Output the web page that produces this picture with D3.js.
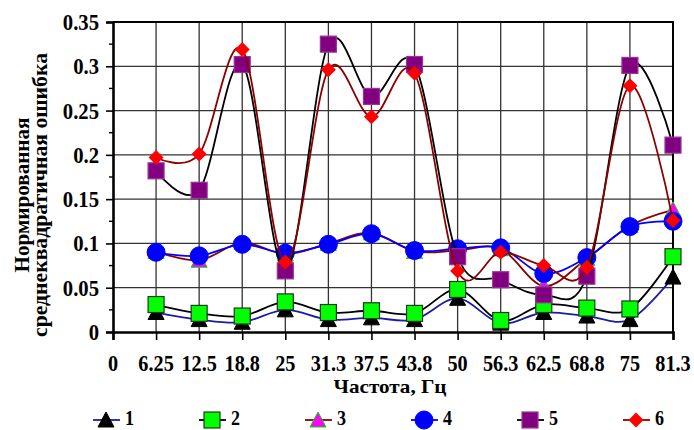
<!DOCTYPE html>
<html>
<head>
<meta charset="utf-8">
<script src="https://cdn.jsdelivr.net/npm/d3@7"></script>
<style>
  html, body { margin: 0; padding: 0; background: #fff; }
  svg { display: block; }
  text { font-family: "Liberation Serif", "Times New Roman", serif; font-weight: bold; fill: #000; }
</style>
</head>
<body>
<svg id="chart" width="694" height="430"></svg>
<script>
// Category axis (frequency, Hz); the first category carries no data
const categories = ["0", "6.25", "12.5", "18.8", "25", "31.3", "37.5", "43.8", "50", "56.3", "62.5", "68.8", "75", "81.3"];
const dataCategories = categories.slice(1);

// Normalised RMS error for each of the six series
const series1 = [0.022, 0.014, 0.011, 0.025, 0.014, 0.016, 0.014, 0.038, 0.010, 0.022, 0.018, 0.014, 0.062];
const series2 = [0.031, 0.021, 0.018, 0.034, 0.022, 0.024, 0.021, 0.048, 0.013, 0.031, 0.027, 0.026, 0.085];
const series3 = [0.091, 0.081, 0.101, 0.088, 0.100, 0.112, 0.091, 0.092, 0.094, 0.052, 0.083, 0.120, 0.138];
const series4 = [0.090, 0.086, 0.099, 0.089, 0.099, 0.111, 0.092, 0.094, 0.095, 0.066, 0.084, 0.119, 0.125];
const series5 = [0.182, 0.160, 0.302, 0.069, 0.325, 0.266, 0.302, 0.085, 0.059, 0.042, 0.063, 0.301, 0.211];
const series6 = [0.197, 0.201, 0.319, 0.079, 0.296, 0.243, 0.292, 0.069, 0.090, 0.075, 0.073, 0.278, 0.126];

const seriesNames = ["1", "2", "3", "4", "5", "6"];
const yTicks = [0, 0.05, 0.1, 0.15, 0.2, 0.25, 0.3, 0.35];
const yTickLabels = ["0", "0.05", "0.1", "0.15", "0.2", "0.25", "0.3", "0.35"];
const xTitle = "Частота, Гц";
const yTitle = ["Нормированная", "среднеквадратичная ошибка"];

// Appearance of each series: line colour and marker style
const styles = [
  { line: "#1c1ca0", shape: "triangle", fill: "#000000", stroke: "#000000" },
  { line: "#000000", shape: "square",   fill: "#00ff00", stroke: "#1a3a1a" },
  { line: "#8b0000", shape: "triangle", fill: "#ff00ff", stroke: "#00dd00" },
  { line: "#0000ff", shape: "circle",   fill: "#0000ff", stroke: "#0000ff" },
  { line: "#000000", shape: "square",   fill: "#800080", stroke: "#993399" },
  { line: "#8b0000", shape: "diamond",  fill: "#ff0000", stroke: "#ff0000" }
];
const allSeries = [series1, series2, series3, series4, series5, series6];

const svg = d3.select("#chart");
const plot = { left: 113, right: 673, top: 22, bottom: 332 };

const x = d3.scalePoint().domain(categories).range([plot.left, plot.right]).padding(0);
const y = d3.scaleLinear().domain([0, 0.35]).range([plot.bottom, plot.top]);

// Narrow, tall bold serif label anchored at (px, py)
function label(parent, px, py, str, size, anchor) {
  return parent.append("g").attr("transform", `translate(${px},${py}) scale(0.9,1)`)
    .append("text").attr("text-anchor", anchor).attr("font-size", size).text(str);
}

// Gridlines
const grid = svg.append("g");
grid.selectAll("line.h").data(yTicks.slice(1, -1)).join("line")
  .attr("x1", plot.left).attr("x2", plot.right)
  .attr("y1", d => y(d)).attr("y2", d => y(d))
  .attr("stroke", "#333").attr("stroke-width", 1.3);
grid.selectAll("line.v").data(categories.slice(1, -1)).join("line")
  .attr("x1", d => x(d)).attr("x2", d => x(d))
  .attr("y1", plot.top).attr("y2", plot.bottom)
  .attr("stroke", "#333").attr("stroke-width", 1.3);

// Plot frame (top and right edges)
svg.append("path")
  .attr("d", `M${plot.left},${plot.top}H${plot.right}V${plot.bottom}`)
  .attr("fill", "none").attr("stroke", "#000").attr("stroke-width", 2);

// Y axis with major and minor ticks
const yAxis = d3.axisLeft(y).tickValues(yTicks).tickFormat("").tickSize(7);
const gy = svg.append("g").attr("transform", `translate(${plot.left},0)`).call(yAxis);
gy.select(".domain").attr("stroke-width", 2.6);
gy.selectAll(".tick line").attr("stroke-width", 1.6);
const yLabels = svg.append("g");
yTicks.forEach((t, i) => label(yLabels, 99, y(t) + 8, yTickLabels[i], 23, "end"));
const minor = d3.range(0, 7).map(i => yTicks[i] + 0.025);
svg.append("g").selectAll("line").data(minor).join("line")
  .attr("x1", plot.left - 4).attr("x2", plot.left)
  .attr("y1", d => y(d)).attr("y2", d => y(d))
  .attr("stroke", "#000").attr("stroke-width", 1.4);

// X axis
const xAxis = d3.axisBottom(x).tickSize(8).tickFormat("");
const gx = svg.append("g").attr("transform", `translate(0,${plot.bottom})`).call(xAxis);
gx.select(".domain").attr("stroke-width", 2.6);
gx.selectAll(".tick line").attr("stroke-width", 1.6);
const xLabels = svg.append("g");
categories.forEach(c => label(xLabels, x(c), 371, c, 22.5, "middle"));

// Axis titles
svg.append("text").attr("x", 390).attr("y", 392.5).attr("text-anchor", "middle")
  .attr("font-size", 19).attr("textLength", 113).attr("lengthAdjust", "spacingAndGlyphs").text(xTitle);
const yt = svg.append("g").attr("transform", "translate(0,195) rotate(-90)");
yt.append("text").attr("x", 0).attr("y", 29).attr("text-anchor", "middle").attr("font-size", 22)
  .attr("textLength", 155).attr("lengthAdjust", "spacingAndGlyphs").text(yTitle[0]);
yt.append("text").attr("x", 0).attr("y", 47).attr("text-anchor", "middle").attr("font-size", 22)
  .attr("textLength", 284).attr("lengthAdjust", "spacingAndGlyphs").text(yTitle[1]);

// Marker drawing helper
function marker(g, shape, fill, stroke) {
  if (shape === "circle") {
    g.append("circle").attr("r", 9).attr("fill", fill).attr("stroke", stroke);
  } else if (shape === "square") {
    g.append("rect").attr("x", -8).attr("y", -8).attr("width", 16).attr("height", 16)
      .attr("fill", fill).attr("stroke", stroke).attr("stroke-width", 1.2);
  } else if (shape === "triangle") {
    g.append("path").attr("d", "M0,-8L8,7L-8,7Z").attr("fill", fill).attr("stroke", stroke).attr("stroke-width", 1);
  } else if (shape === "diamond") {
    g.append("path").attr("d", "M0,-7.5L7.5,0L0,7.5L-7.5,0Z").attr("fill", fill);
  }
}

// Series: smoothed line then markers
const line = d3.line().x(d => x(d.c)).y(d => y(d.v)).curve(d3.curveCardinal.tension(0));
allSeries.forEach((vals, si) => {
  const pts = vals.map((v, i) => ({ c: dataCategories[i], v }));
  const g = svg.append("g");
  g.append("path").datum(pts).attr("d", line)
    .attr("fill", "none").attr("stroke", styles[si].line).attr("stroke-width", 1.8);
  pts.forEach(p => {
    const m = g.append("g").attr("transform", `translate(${x(p.c)},${y(p.v)})`);
    marker(m, styles[si].shape, styles[si].fill, styles[si].stroke);
  });
});

// Legend
const legend = svg.append("g").attr("transform", "translate(0,420)");
seriesNames.forEach((name, i) => {
  const cx = 106 + i * 106;
  const item = legend.append("g");
  item.append("line").attr("x1", cx - 13).attr("x2", cx + 14).attr("y1", 0).attr("y2", 0)
    .attr("stroke", styles[i].line).attr("stroke-width", 1.8);
  const m = item.append("g").attr("transform", `translate(${cx},0)`);
  marker(m, styles[i].shape, styles[i].fill, styles[i].stroke);
  label(item, cx + 19, 5, name, 20, "start");
});
</script>
</body>
</html>
